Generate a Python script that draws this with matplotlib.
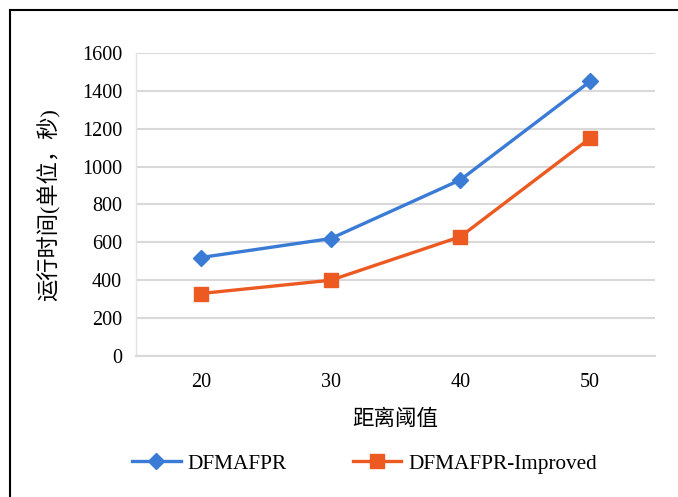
import matplotlib.pyplot as plt
from matplotlib.lines import Line2D

plt.rcParams['font.family'] = ['Liberation Serif', 'Noto Sans CJK SC']

# distance thresholds and run times (seconds)
thresholds = ['20', '30', '40', '50']
dfmafpr = [520, 620, 930, 1450]
dfmafpr_improved = [330, 400, 630, 1150]
yticks = [0, 200, 400, 600, 800, 1000, 1200, 1400, 1600]

fig = plt.figure(figsize=(6.78, 4.97), dpi=100)
ax = fig.add_axes([0.2006, 0.2837, 0.7655, 0.6097])

x = list(range(len(thresholds)))
ax.plot(x, dfmafpr, color='#3A7BD5', lw=2.4, marker='D', ms=8,
        label='DFMAFPR', zorder=3)
ax.plot(x, dfmafpr_improved, color='#EC5A22', lw=2.4, marker='s', ms=10,
        label='DFMAFPR-Improved', zorder=3)

ax.set_xlim(-0.5, len(thresholds) - 0.5)
ax.set_ylim(0, 1600)
ax.set_xticks(x)
ax.set_xticklabels(thresholds)
ax.set_yticks(yticks)
ax.tick_params(axis='both', length=0, labelsize=14.5)
ax.tick_params(axis='y', pad=10)
ax.tick_params(axis='x', pad=12)
ax.grid(axis='y', color='#D9D9D9', lw=1.5)
ax.set_axisbelow(True)
for side in ['top', 'right']:
    ax.spines[side].set_visible(False)
ax.spines['bottom'].set_color('#D9D9D9')
ax.spines['bottom'].set_linewidth(1.5)
ax.spines['left'].set_color('#E4E4E4')
ax.spines['left'].set_linewidth(1.0)

ax.set_ylabel('运行时间(单位，秒)', fontsize=16, labelpad=15)
ax.set_xlabel('距离阈值', fontsize=15.5, labelpad=13)

ax.legend(loc='upper center', bbox_to_anchor=(0.44, -0.26), ncol=2,
          frameon=False, fontsize=15.3, handlelength=2.3, columnspacing=3.1,
          handletextpad=0.31)

# frame on the left and top edge
fig.add_artist(Line2D([10 / 678, 10 / 678], [0, 1 - 10 / 497],
                      transform=fig.transFigure, color='black', lw=1.5))
fig.add_artist(Line2D([10 / 678, 1], [1 - 10 / 497, 1 - 10 / 497],
                      transform=fig.transFigure, color='black', lw=1.5))

fig.savefig('out.png', dpi=100)
